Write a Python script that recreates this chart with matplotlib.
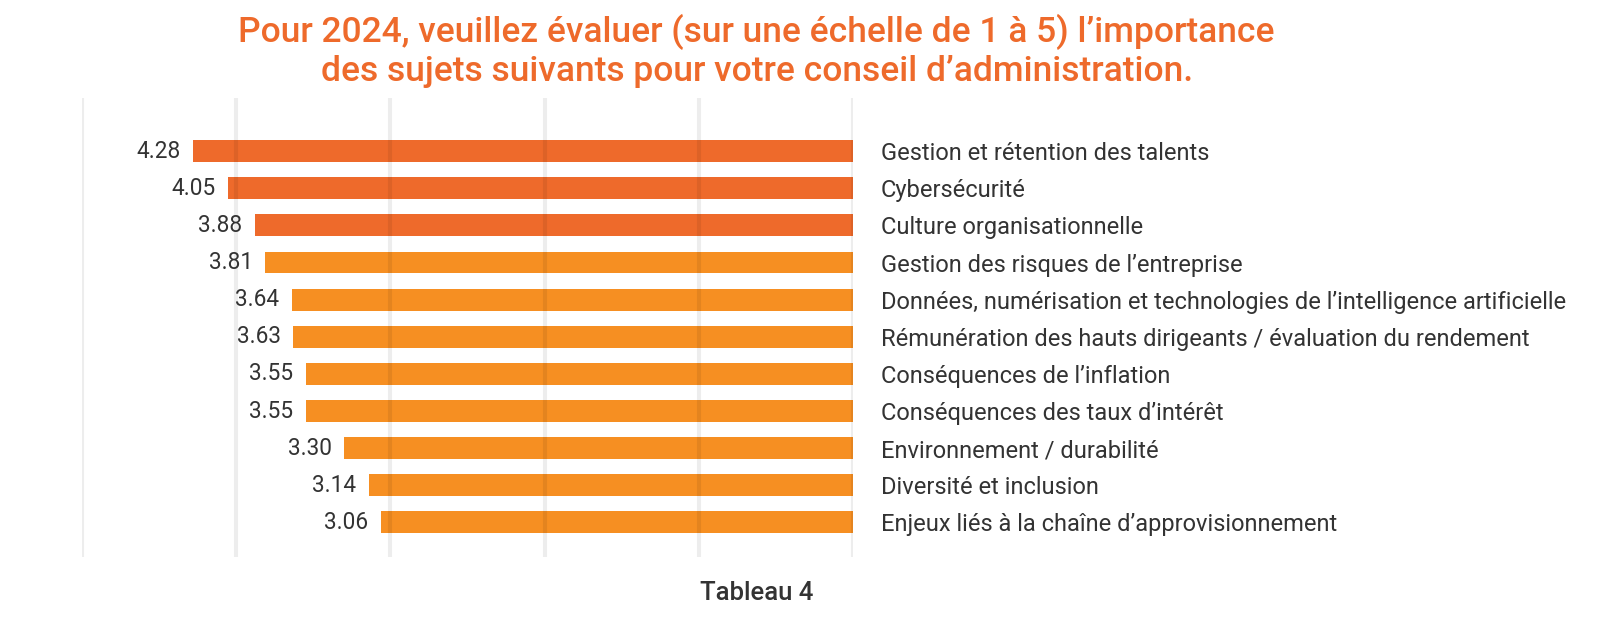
import matplotlib
matplotlib.use("Agg")
import matplotlib.pyplot as plt
import numpy as np

# Data
categories = [
    "Gestion et rétention des talents",
    "Cybersécurité",
    "Culture organisationnelle",
    "Gestion des risques de l\u2019entreprise",
    "Données, numérisation et technologies de l\u2019intelligence artificielle",
    "Rémunération des hauts dirigeants / évaluation du rendement",
    "Conséquences de l\u2019inflation",
    "Conséquences des taux d\u2019intérêt",
    "Environnement / durabilité",
    "Diversité et inclusion",
    "Enjeux liés à la chaîne d\u2019approvisionnement",
]
scores = [4.28, 4.05, 3.88, 3.81, 3.64, 3.63, 3.55, 3.55, 3.30, 3.14, 3.06]
top_n = 3  # the first three bars are in the darker orange

title = ("Pour 2024, veuillez évaluer (sur une échelle de 1 à 5) l\u2019importance\n"
         "des sujets suivants pour votre conseil d\u2019administration.")
caption = "Tableau 4"

dark_orange = "#EE6A2B"
light_orange = "#F68F22"
text_grey = "#333333"

plt.rcParams["font.family"] = ["Roboto", "DejaVu Sans"]

fig = plt.figure(figsize=(16.1, 6.28), dpi=100)
ax = fig.add_axes([0.0509, 0.1131, 0.4789, 0.7308])

y = np.arange(len(categories))
colors = [dark_orange if i < top_n else light_orange for i in range(len(categories))]
ax.barh(y, scores, height=0.59, color=colors, zorder=2)

# value labels to the left of each bar
for yi, v in zip(y, scores):
    ax.annotate(f"{v:.2f}", xy=(v, yi), xytext=(-9, 0), textcoords="offset points",
                ha="right", va="center", fontsize=16.3, color=text_grey)

ax.set_xlim(5, 0)
ax.set_ylim(len(categories) - 1 + 0.93, -1.43)

# vertical gridlines drawn on top, slightly transparent
ax.set_xticks(np.arange(0, 6, 1))
ax.grid(axis="x", color="black", alpha=0.07, linewidth=3, zorder=3)
ax.set_axisbelow(False)
ax.tick_params(axis="x", length=0, labelbottom=False)

ax.yaxis.tick_right()
ax.set_yticks(y)
ax.set_yticklabels(categories, fontsize=17, color=text_grey)
ax.tick_params(axis="y", length=0, pad=20)

for s in ax.spines.values():
    s.set_visible(False)

fig.text(0.47, 0.978, title, ha="center", va="top", fontsize=25.5, color=dark_orange,
         fontweight="medium", linespacing=1.2)
fig.text(0.47, 0.055, caption, ha="center", va="center", fontsize=18.5, color=text_grey,
         fontweight="medium")

fig.savefig("out.png", dpi=100)
